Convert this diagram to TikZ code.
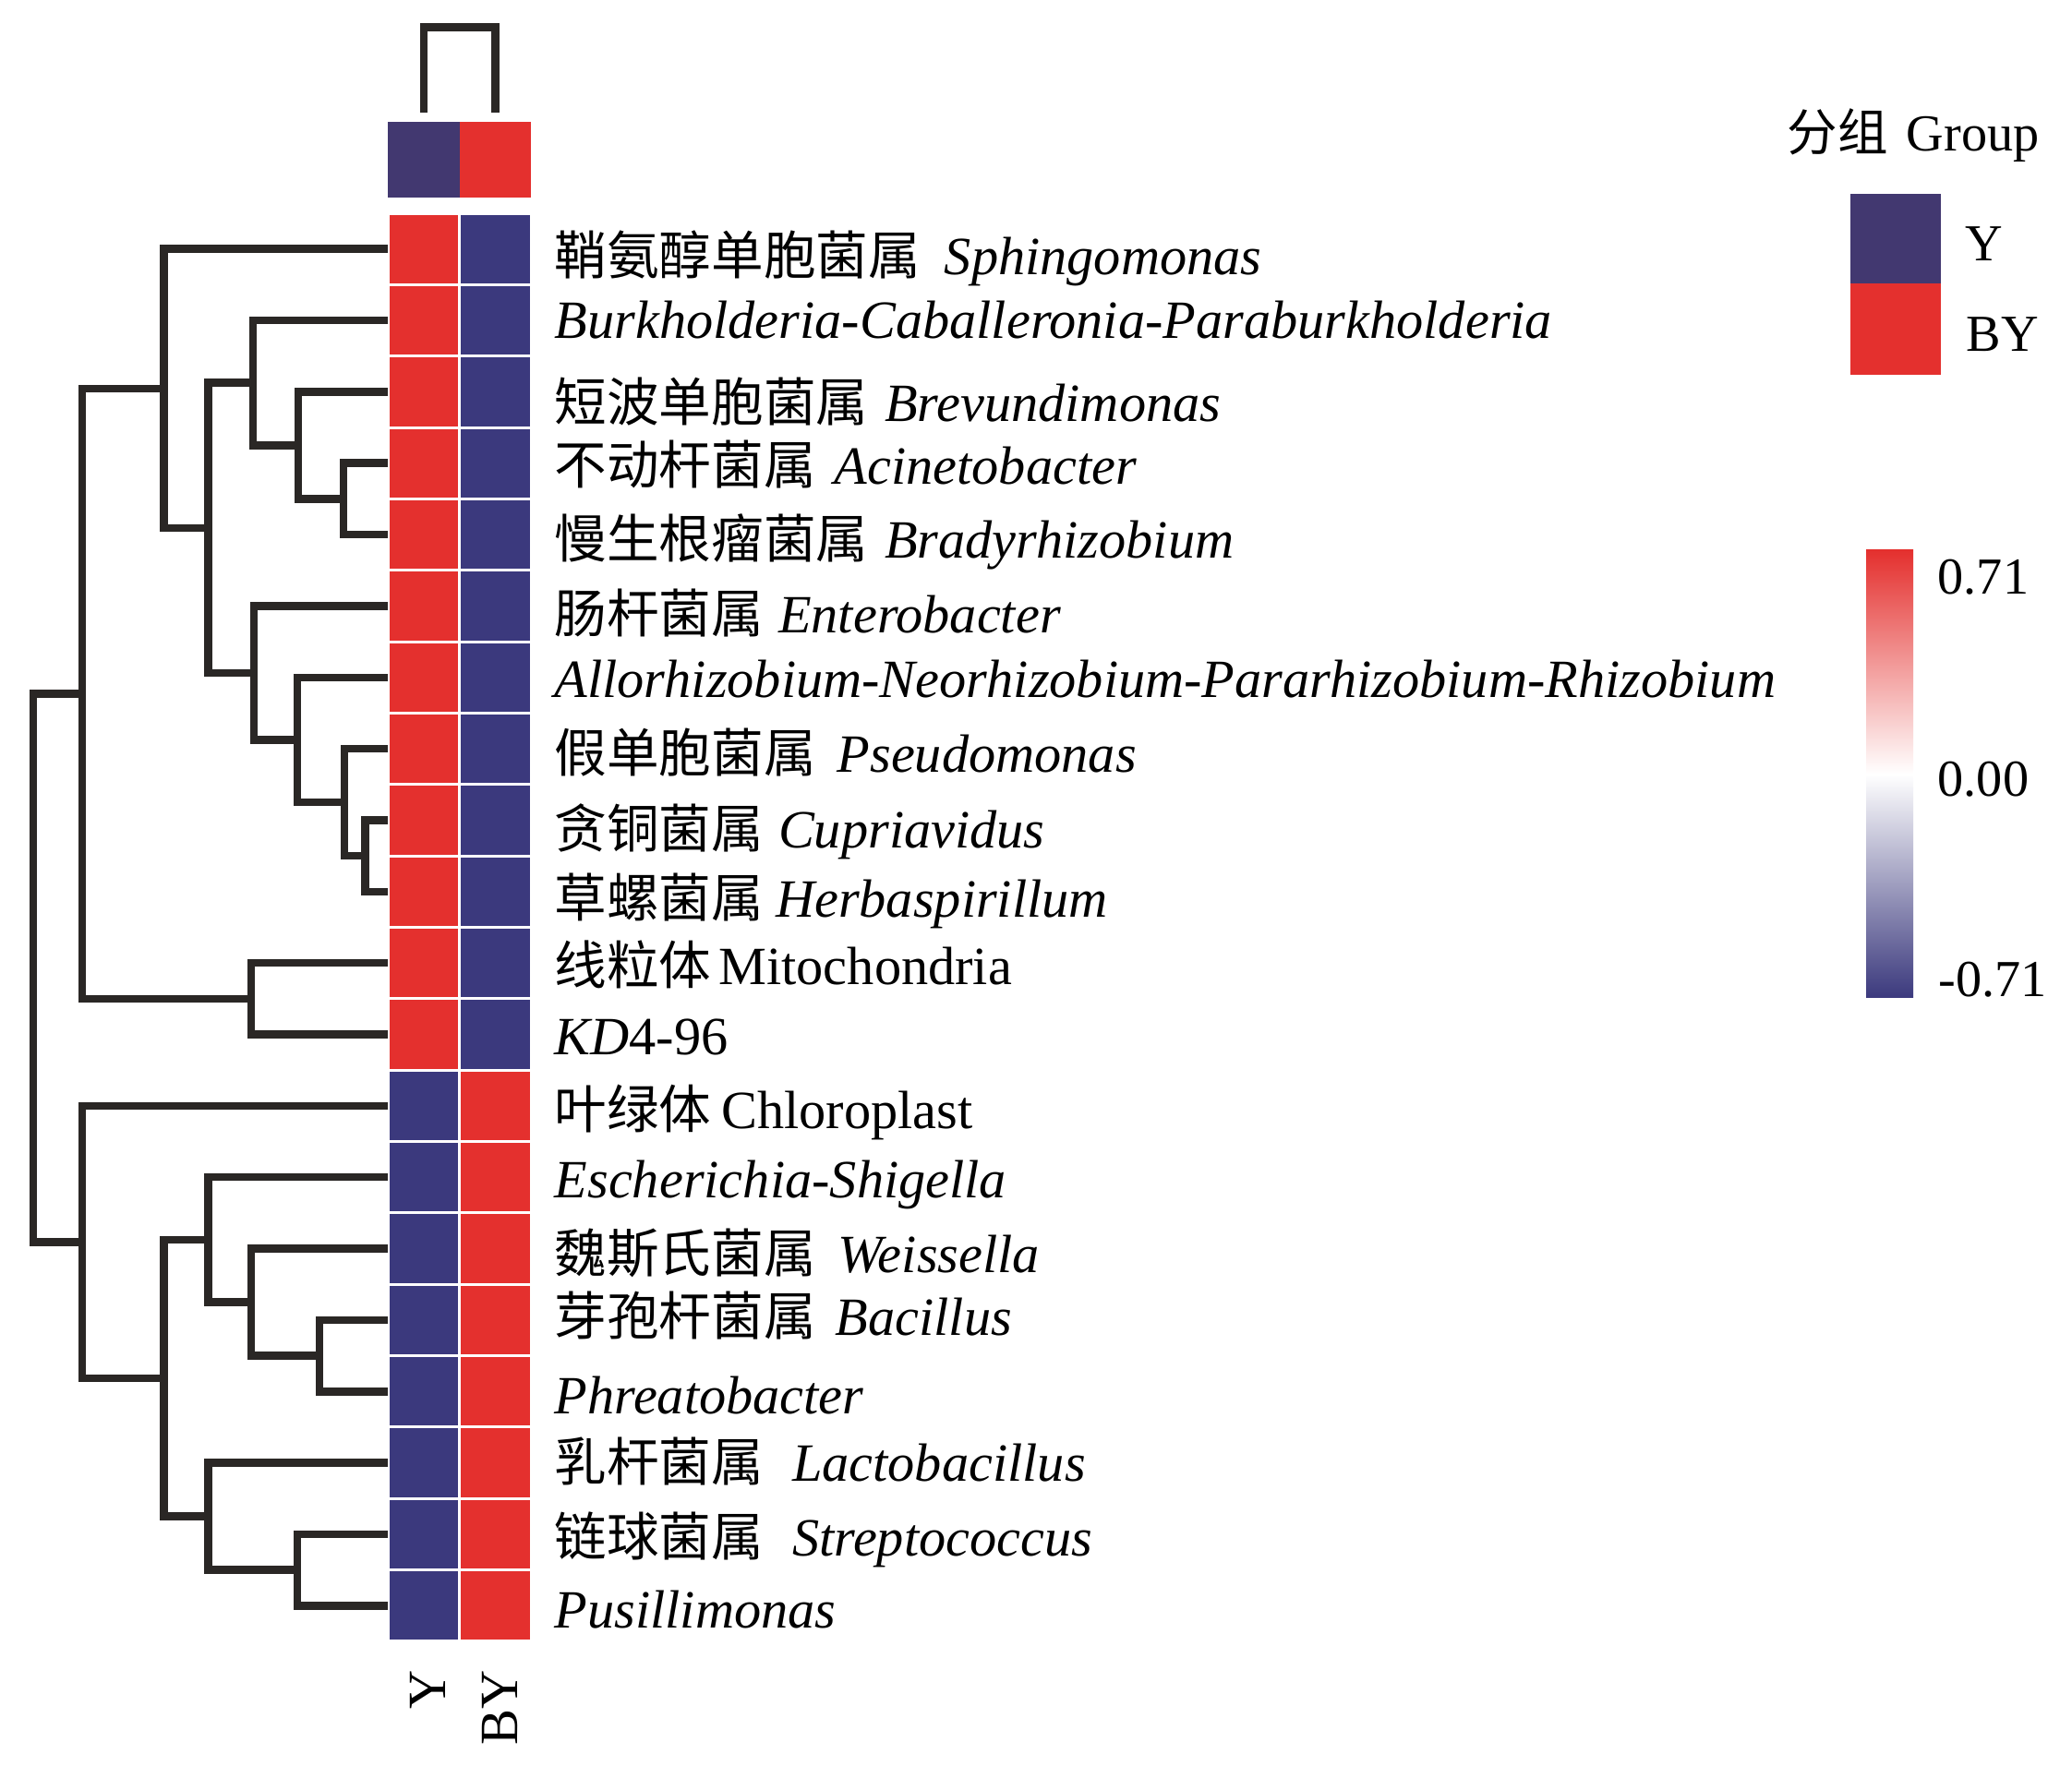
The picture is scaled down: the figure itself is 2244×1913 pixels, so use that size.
\documentclass[tikz,border=0pt]{standalone}
\usepackage{fontspec}
\setmainfont{Liberation Serif}
\newfontfamily\cnfont[Scale=0.97]{Noto Sans CJK SC}
\newcommand{\cn}[1]{{\cnfont #1}}
\definecolor{cellred}{RGB}{228,48,46}
\definecolor{cellblue}{RGB}{59,57,125}
\definecolor{grpblue}{RGB}{66,56,112}
\definecolor{treeline}{RGB}{42,39,37}
\tikzset{
  tree/.style={line width=0.85mm, draw=treeline},
  cell/.style={draw=white, line width=0.3mm, minimum width=7.75mm, minimum height=7.735mm, inner sep=0, outer sep=0},
  keybox/.style={minimum width=9.8mm, inner sep=0, outer sep=0},
  lab/.style={anchor=base west, inner sep=0, font=\fontsize{16.6}{20}\selectfont},
  key/.style={anchor=base west, inner sep=0, font=\fontsize{16}{19}\selectfont},
}
\begin{document}
\begin{tikzpicture}[x=0.1mm, y=-0.1mm]
      \useasboundingbox (0,0) rectangle (2244,1913);
      % group bar and its tree
      \node[cell, draw=none, fill=grpblue, minimum height=8.2mm] (gY) at (458.75,173) {};
      \node[cell, draw=none, fill=cellred, minimum height=8.2mm] (gBY) at (536.25,173) {};
      \coordinate (tY) at (458.75,122);
      \coordinate (tBY) at (536.25,122);
      \coordinate (ttop) at (497.5,29.5);
      \draw[tree] (tY) |- (ttop) -| (tBY);
      % heat map
      \node[cell, fill=cellred] (a1) at (458.75,269.7) {};   \node[cell, fill=cellblue] (b1) at (536.25,269.7) {};
      \node[cell, fill=cellred] (a2) at (458.75,347.0) {};   \node[cell, fill=cellblue] (b2) at (536.25,347.0) {};
      \node[cell, fill=cellred] (a3) at (458.75,424.4) {};   \node[cell, fill=cellblue] (b3) at (536.25,424.4) {};
      \node[cell, fill=cellred] (a4) at (458.75,501.7) {};   \node[cell, fill=cellblue] (b4) at (536.25,501.7) {};
      \node[cell, fill=cellred] (a5) at (458.75,579.1) {};   \node[cell, fill=cellblue] (b5) at (536.25,579.1) {};
      \node[cell, fill=cellred] (a6) at (458.75,656.4) {};   \node[cell, fill=cellblue] (b6) at (536.25,656.4) {};
      \node[cell, fill=cellred] (a7) at (458.75,733.8) {};   \node[cell, fill=cellblue] (b7) at (536.25,733.8) {};
      \node[cell, fill=cellred] (a8) at (458.75,811.1) {};   \node[cell, fill=cellblue] (b8) at (536.25,811.1) {};
      \node[cell, fill=cellred] (a9) at (458.75,888.5) {};   \node[cell, fill=cellblue] (b9) at (536.25,888.5) {};
      \node[cell, fill=cellred] (a10) at (458.75,965.8) {};  \node[cell, fill=cellblue] (b10) at (536.25,965.8) {};
      \node[cell, fill=cellred] (a11) at (458.75,1043.2) {}; \node[cell, fill=cellblue] (b11) at (536.25,1043.2) {};
      \node[cell, fill=cellred] (a12) at (458.75,1120.5) {}; \node[cell, fill=cellblue] (b12) at (536.25,1120.5) {};
      \node[cell, fill=cellblue] (a13) at (458.75,1197.9) {}; \node[cell, fill=cellred] (b13) at (536.25,1197.9) {};
      \node[cell, fill=cellblue] (a14) at (458.75,1275.2) {}; \node[cell, fill=cellred] (b14) at (536.25,1275.2) {};
      \node[cell, fill=cellblue] (a15) at (458.75,1352.6) {}; \node[cell, fill=cellred] (b15) at (536.25,1352.6) {};
      \node[cell, fill=cellblue] (a16) at (458.75,1429.9) {}; \node[cell, fill=cellred] (b16) at (536.25,1429.9) {};
      \node[cell, fill=cellblue] (a17) at (458.75,1507.3) {}; \node[cell, fill=cellred] (b17) at (536.25,1507.3) {};
      \node[cell, fill=cellblue] (a18) at (458.75,1584.6) {}; \node[cell, fill=cellred] (b18) at (536.25,1584.6) {};
      \node[cell, fill=cellblue] (a19) at (458.75,1662.0) {}; \node[cell, fill=cellred] (b19) at (536.25,1662.0) {};
      \node[cell, fill=cellblue] (a20) at (458.75,1739.3) {}; \node[cell, fill=cellred] (b20) at (536.25,1739.3) {};
      % row tree
      \coordinate (n45) at (372,540.4);
      \coordinate (n35) at (323,482.4);
      \coordinate (n25) at (274,414.7);
      \coordinate (n910) at (395.5,927.2);
      \coordinate (n810) at (373,869.2);
      \coordinate (n710) at (322,801.5);
      \coordinate (n610) at (275,729);
      \coordinate (n210) at (225.5,571.9);
      \coordinate (n110) at (177.5,420.8);
      \coordinate (n1112) at (272,1081.9);
      \coordinate (n112) at (89,751.4);
      \coordinate (n1617) at (346,1468.6);
      \coordinate (n1517) at (272,1410.6);
      \coordinate (n1417) at (225.5,1342.9);
      \coordinate (n1920) at (322,1700.7);
      \coordinate (n1820) at (225.5,1642.6);
      \coordinate (n1420) at (177.5,1492.8);
      \coordinate (n1320) at (89,1345.4);
      \coordinate (root) at (36,1048.4);
      \draw[tree] (a4.west) -| (n45) |- (a5.west);
      \draw[tree] (a3.west) -| (n35) |- (n45);
      \draw[tree] (a2.west) -| (n25) |- (n35);
      \draw[tree] (a9.west) -| (n910) |- (a10.west);
      \draw[tree] (a8.west) -| (n810) |- (n910);
      \draw[tree] (a7.west) -| (n710) |- (n810);
      \draw[tree] (a6.west) -| (n610) |- (n710);
      \draw[tree] (n25) -| (n210) |- (n610);
      \draw[tree] (a1.west) -| (n110) |- (n210);
      \draw[tree] (a11.west) -| (n1112) |- (a12.west);
      \draw[tree] (n110) -| (n112) |- (n1112);
      \draw[tree] (a16.west) -| (n1617) |- (a17.west);
      \draw[tree] (a15.west) -| (n1517) |- (n1617);
      \draw[tree] (a14.west) -| (n1417) |- (n1517);
      \draw[tree] (a19.west) -| (n1920) |- (a20.west);
      \draw[tree] (a18.west) -| (n1820) |- (n1920);
      \draw[tree] (n1417) -| (n1420) |- (n1820);
      \draw[tree] (a13.west) -| (n1320) |- (n1420);
      \draw[tree] (n112) -| (root) |- (n1320);
      % row labels
      \node[lab] (t1) at (600,298) {\cn{鞘氨醇单胞菌属}\hspace{2.6mm}\textit{Sphingomonas}};
      \node[lab] (t2) at (600,367) {\textit{Burkholderia-Caballeronia-Paraburkholderia}};
      \node[lab] (t3) at (600,457) {\cn{短波单胞菌属}\hspace{1.8mm}\textit{Brevundimonas}};
      \node[lab] (t4) at (600,525) {\cn{不动杆菌属}\hspace{2mm}\textit{Acinetobacter}};
      \node[lab] (t5) at (600,605) {\cn{慢生根瘤菌属}\hspace{1.8mm}\textit{Bradyrhizobium}};
      \node[lab] (t6) at (600,686) {\cn{肠杆菌属}\hspace{1.6mm}\textit{Enterobacter}};
      \node[lab] (t7) at (600,755.5) {\textit{Allorhizobium-Neorhizobium-Pararhizobium-Rhizobium}};
      \node[lab] (t8) at (600,837) {\cn{假单胞菌属}\hspace{2.3mm}\textit{Pseudomonas}};
      \node[lab] (t9) at (600,918) {\cn{贪铜菌属}\hspace{1.6mm}\textit{Cupriavidus}};
      \node[lab] (t10) at (600,993) {\cn{草螺菌属}\hspace{1.3mm}\textit{Herbaspirillum}};
      \node[lab] (t11) at (600,1066.5) {\cn{线粒体}\hspace{0.8mm}Mitochondria};
      \node[lab] (t12) at (600,1142) {\textit{KD}4-96};
      \node[lab] (t13) at (600,1222) {\cn{叶绿体}\hspace{1.1mm}Chloroplast};
      \node[lab] (t14) at (600,1297) {\textit{Escherichia-Shigella}};
      \node[lab] (t15) at (600,1378) {\cn{魏斯氏菌属}\hspace{2.4mm}\textit{Weissella}};
      \node[lab] (t16) at (600,1446) {\cn{芽孢杆菌属}\hspace{2.1mm}\textit{Bacillus}};
      \node[lab] (t17) at (600,1531.5) {\textit{Phreatobacter}};
      \node[lab] (t18) at (600,1604.5) {\cn{乳杆菌属}\hspace{3.1mm}\textit{Lactobacillus}};
      \node[lab] (t19) at (600,1685) {\cn{链球菌属}\hspace{3.1mm}\textit{Streptococcus}};
      \node[lab] (t20) at (600,1763) {\textit{Pusillimonas}};
      % column labels
      \node[lab, rotate=90, anchor=base east] (cY) at (482,1809) {Y};
      \node[lab, rotate=90, anchor=base east] (cBY) at (560,1809) {BY};
      % group key
      \node[key] (gtitle) at (1935,164) {\cn{分组}\hspace{2mm}Group};
      \node[keybox, fill=grpblue, minimum height=9.66mm] (kY) at (2053,258.3) {};
      \node[keybox, fill=cellred, minimum height=9.91mm] (kBY) at (2053,356.15) {};
      \node[key] (kYt) at (2128,283) {Y};
      \node[key] (kBYt) at (2129,380.5) {BY};
      % colour key
      \node[inner sep=0, outer sep=0, minimum width=5.1mm, minimum height=48.5mm,
            top color=cellred, bottom color=cellblue, middle color=white] (bar) at (2046.5,838.5) {};
      \node[key] (v1) at (2098,644) {0.71};
      \node[key] (v2) at (2098,862.7) {0.00};
      \node[key] (v3) at (2099,1079.6) {-0.71};
    \end{tikzpicture}
\end{document}
